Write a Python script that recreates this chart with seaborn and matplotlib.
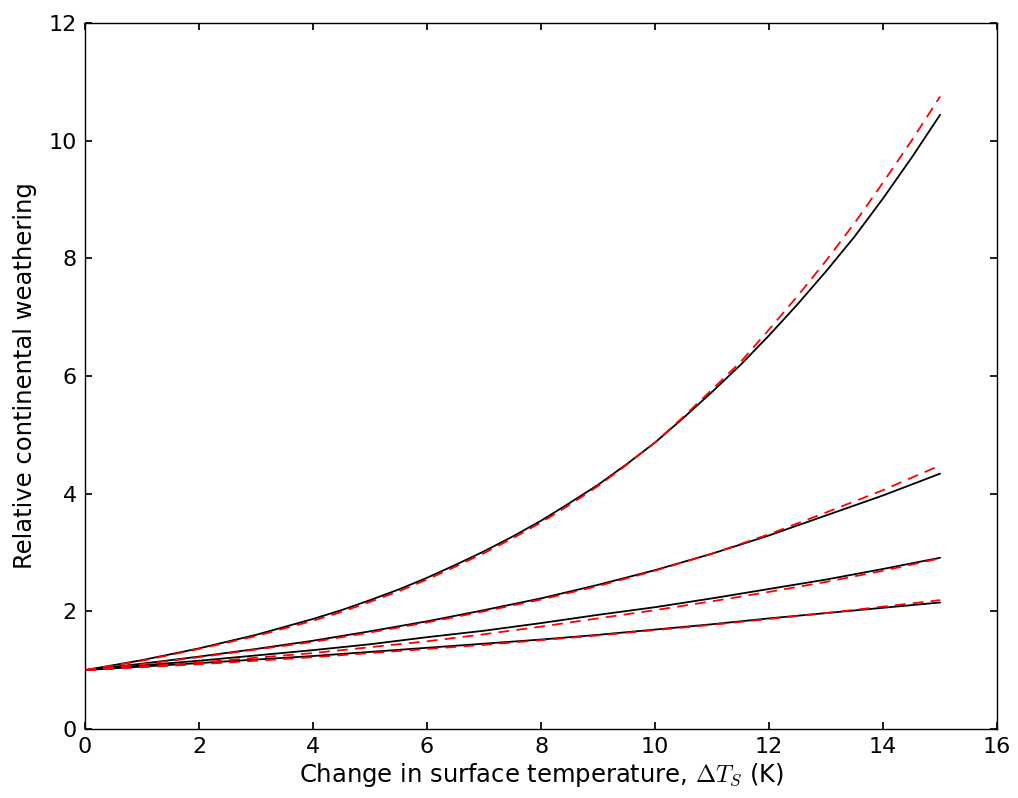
import numpy as np
import pandas as pd
import seaborn as sns
import matplotlib.pyplot as plt

# surface temperature change (K)
dT = [0, 1, 2, 3, 4, 5, 6, 7, 8, 9, 10, 11, 12, 13, 14, 15]
# finer sampling for the steep top pair
dT_top = [0, 1, 2, 3, 4, 4.5, 5, 5.5, 6, 6.5, 7, 7.5, 8, 8.5, 9, 9.5,
          10, 10.5, 11, 11.5, 12, 12.5, 13, 13.5, 14, 14.5, 15]

# relative weathering, full model (solid black)
full_1 = [1.00, 1.17, 1.37, 1.60, 1.87, 2.02, 2.19, 2.37, 2.57, 2.79, 3.02, 3.27, 3.54, 3.84,
          4.15, 4.50, 4.87, 5.29, 5.73, 6.19, 6.69, 7.22, 7.78, 8.37, 9.02, 9.71, 10.44]
full_2 = [1.00, 1.11, 1.23, 1.36, 1.50, 1.66, 1.83, 2.02, 2.22, 2.45, 2.70, 2.98, 3.29, 3.63, 3.97, 4.34]
full_3 = [1.00, 1.08, 1.16, 1.25, 1.34, 1.44, 1.56, 1.67, 1.80, 1.94, 2.07, 2.22, 2.38, 2.54, 2.72, 2.91]
full_4 = [1.00, 1.06, 1.12, 1.18, 1.24, 1.31, 1.38, 1.45, 1.52, 1.60, 1.69, 1.78, 1.88, 1.97, 2.06, 2.15]

# relative weathering, approximation (dashed red)
approx_1 = [1.00, 1.16, 1.36, 1.58, 1.84, 1.99, 2.16, 2.34, 2.54, 2.76, 2.99, 3.24, 3.51, 3.81,
            4.13, 4.49, 4.87, 5.31, 5.77, 6.24, 6.79, 7.36, 7.96, 8.60, 9.29, 10.00, 10.75]
approx_2 = [1.00, 1.10, 1.22, 1.35, 1.48, 1.64, 1.81, 2.00, 2.20, 2.43, 2.69, 2.98, 3.31, 3.68, 4.06, 4.48]
approx_3 = [1.00, 1.06, 1.13, 1.21, 1.29, 1.39, 1.49, 1.61, 1.74, 1.88, 2.02, 2.17, 2.33, 2.50, 2.69, 2.90]
approx_4 = [1.00, 1.05, 1.10, 1.16, 1.22, 1.29, 1.36, 1.43, 1.51, 1.59, 1.68, 1.77, 1.87, 1.97, 2.08, 2.19]


sns.set_theme(style="ticks", rc={
    "xtick.direction": "in", "ytick.direction": "in",
    "xtick.top": True, "ytick.right": True,
    "xtick.major.size": 5, "ytick.major.size": 5,
    "axes.edgecolor": "black", "axes.linewidth": 1.0,
    "text.color": "black", "axes.labelcolor": "black",
})
plt.rcParams["font.family"] = ["DejaVu Sans"]
plt.rcParams["mathtext.fontset"] = "cm"

fig = plt.figure(figsize=(10.18, 7.98), dpi=100)
ax = fig.add_axes([0.0835, 0.0865, 0.896, 0.8847])

curves = [(dT_top, full_1), (dT, full_2), (dT, full_3), (dT, full_4)]
for xs, ys in curves:
    sns.lineplot(x=xs, y=ys, color="black", lw=1.3, ax=ax)

approx = [(dT_top, approx_1), (dT, approx_2), (dT, approx_3), (dT, approx_4)]
for xs, ys in approx:
    sns.lineplot(x=xs, y=ys, color="red", lw=1.3, ax=ax, linestyle=(0, (6, 4)))

ax.set_xlim(0, 16)
ax.set_ylim(0, 12)
ax.set_xticks(np.arange(0, 17, 2))
ax.set_yticks(np.arange(0, 13, 2))
ax.tick_params(labelsize=16, colors="black", pad=6)
ax.set_xlabel(r"Change in surface temperature, $\Delta T_S$ (K)", fontsize=17.5, labelpad=3)
ax.set_ylabel("Relative continental weathering", fontsize=17.5, labelpad=8)

plt.savefig("out.png", dpi=100)
